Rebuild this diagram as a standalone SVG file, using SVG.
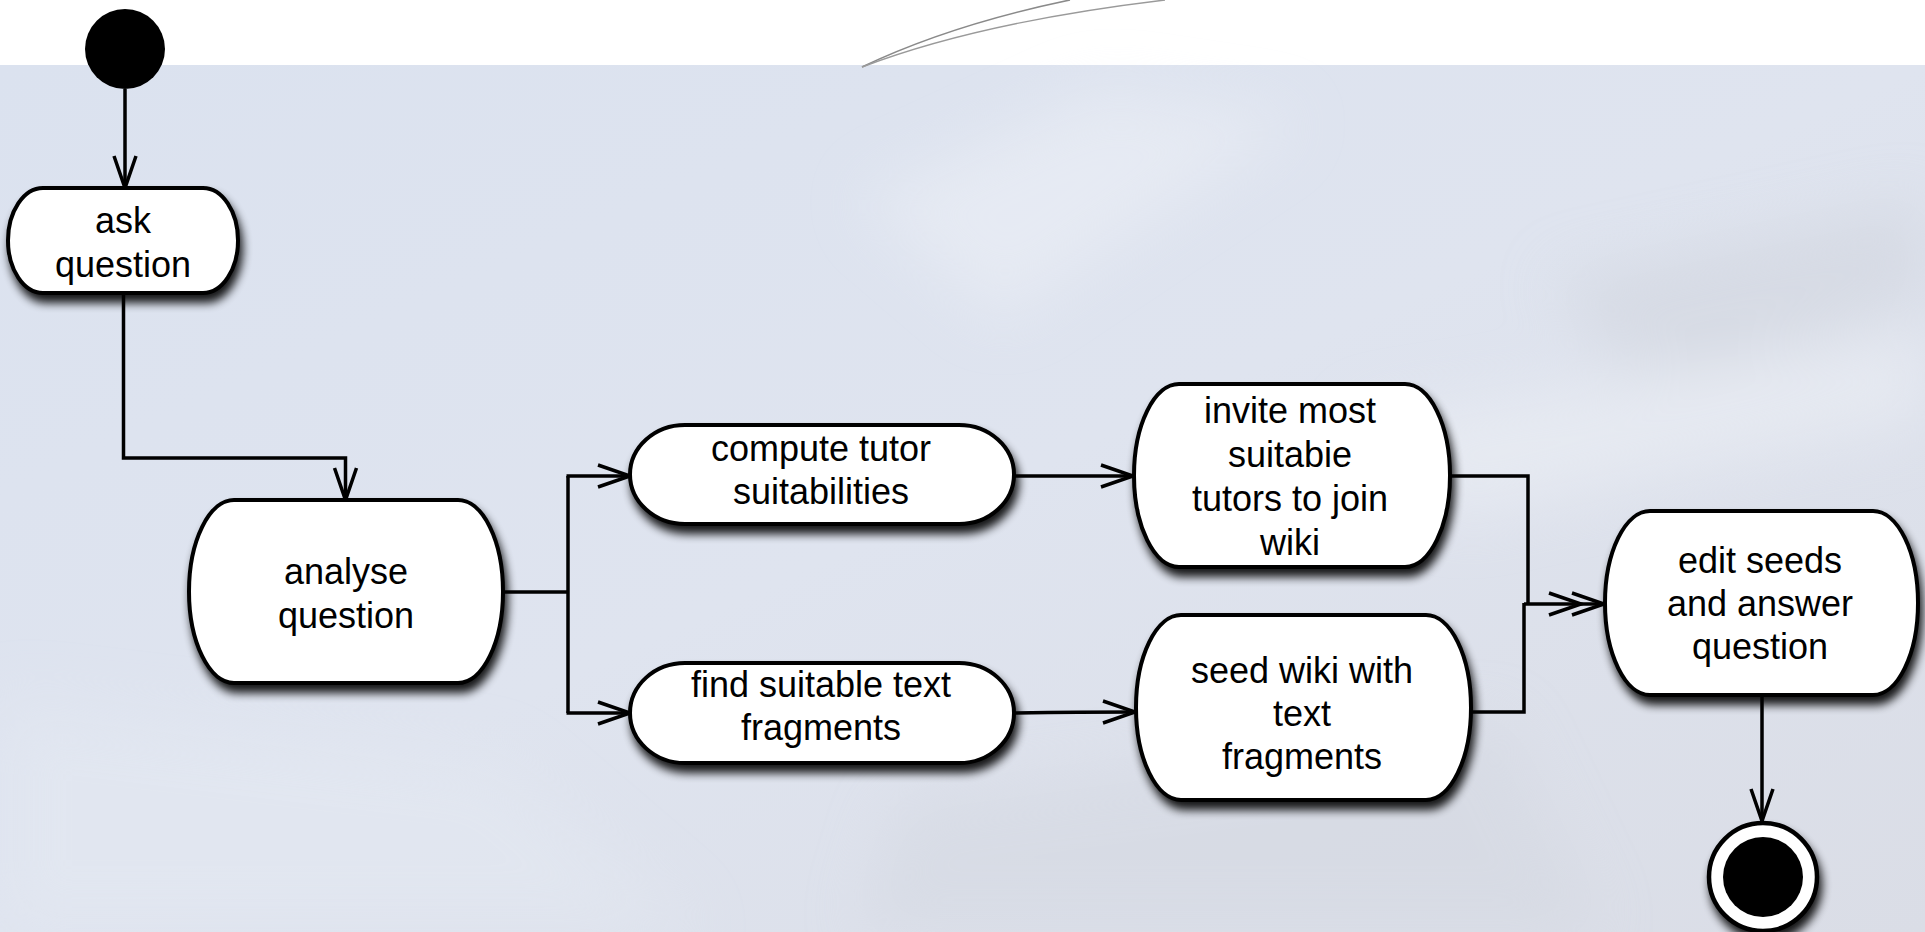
<svg xmlns="http://www.w3.org/2000/svg" width="1925" height="932" viewBox="0 0 1925 932">
<style>
.node{fill:#ffffff;stroke:#000000;stroke-width:4;filter:url(#shadow)}
.lbl{font-family:"Liberation Sans",Arial,Helvetica,sans-serif;font-size:36px;fill:#000000;text-anchor:middle}
.edge{fill:none;stroke:#000000;stroke-width:3.5}
.arr{marker-end:url(#open)}
.arr2{marker-end:url(#open2)}
</style>
<defs>
<filter id="shadow" x="-20%" y="-20%" width="150%" height="160%">
<feGaussianBlur in="SourceAlpha" stdDeviation="5"/>
<feOffset dx="3" dy="8" result="b"/>
<feComponentTransfer><feFuncA type="linear" slope="0.9"/></feComponentTransfer>
<feMerge><feMergeNode/><feMergeNode in="SourceGraphic"/></feMerge>
</filter>
<filter id="soft" x="-50%" y="-50%" width="200%" height="200%"><feGaussianBlur stdDeviation="30"/></filter>
<linearGradient id="bg" x1="0" y1="0" x2="1" y2="1">
<stop offset="0" stop-color="#dbe2ef"/>
<stop offset="0.5" stop-color="#dfe4ef"/>
<stop offset="1" stop-color="#dadde6"/>
</linearGradient>
<marker id="open" markerUnits="userSpaceOnUse" viewBox="-2 -2 38 26" markerWidth="38" markerHeight="26" refX="32" refY="11" orient="auto" overflow="visible">
<path d="M0,0 L32,11 L0,22" fill="none" stroke="#000" stroke-width="3.5"/>
</marker>
<marker id="open2" markerUnits="userSpaceOnUse" viewBox="-26 -2 62 26" markerWidth="62" markerHeight="26" refX="32" refY="11" orient="auto" overflow="visible">
<path d="M0,0 L32,11 L0,22 M-23,0 L9,11 L-23,22" fill="none" stroke="#000" stroke-width="3.5"/>
</marker>
</defs>
<g id="background">
<rect x="0" y="0" width="1925" height="932" fill="#ffffff"/>
<rect x="0" y="65" width="1925" height="867" fill="url(#bg)"/>
<g filter="url(#soft)" opacity="0.5">
<path d="M860,200 L1100,90 L1300,120 L1000,320 Z" fill="#eef1f7"/>
<path d="M1550,280 L1925,200 L1925,300 L1650,400 Z" fill="#cfd3dc"/>
<path d="M1350,420 L1925,330 L1925,420 L1450,520 Z" fill="#eef1f6"/>
<path d="M900,800 L1500,720 L1600,932 L860,932 Z" fill="#d3d7e0"/>
<path d="M0,700 L500,760 L700,932 L0,932 Z" fill="#e4e9f2"/>
</g>
<path d="M862,67 Q950,25 1070,0" fill="none" stroke="#8a8a8a" stroke-width="1.6"/>
<path d="M862,67 Q980,22 1165,0" fill="none" stroke="#9a9a9a" stroke-width="1.4"/>
</g>
<g id="connectors">
<path class="edge arr" d="M125,89 V188"/>
<path class="edge arr" d="M123.5,293 V458 H345.5 V500"/>
<path class="edge" d="M503,592 H568"/>
<path class="edge" d="M568,476 V713"/>
<path class="edge arr" d="M566.5,476 H630"/>
<path class="edge arr" d="M566.5,713 H630"/>
<path class="edge arr" d="M1014,476 H1133"/>
<path class="edge arr" d="M1014,713 Q1080,712 1135,712"/>
<path class="edge" d="M1450,476 H1528 V604"/>
<path class="edge" d="M1471,712 H1524 V603"/>
<path class="edge arr2" d="M1524,604 H1604"/>
<path class="edge arr" d="M1762,695 V821"/>
</g>
<g id="start">
<circle cx="125" cy="49" r="40" fill="#000000"/>
</g>
<g id="ask-question">
<rect class="node" x="8" y="188" width="230" height="105" rx="35" ry="52.5"/>
<text class="lbl" x="123" y="233">ask</text>
<text class="lbl" x="123" y="277">question</text>
</g>
<g id="analyse-question">
<rect class="node" x="189" y="500" width="314" height="183" rx="45" ry="91.5"/>
<text class="lbl" x="346" y="584">analyse</text>
<text class="lbl" x="346" y="628">question</text>
</g>
<g id="compute-tutor">
<rect class="node" x="630" y="425" width="384" height="99" rx="55" ry="49.5"/>
<text class="lbl" x="821" y="461">compute tutor</text>
<text class="lbl" x="821" y="504">suitabilities</text>
</g>
<g id="find-fragments">
<rect class="node" x="630" y="663" width="384" height="100" rx="55" ry="50"/>
<text class="lbl" x="821" y="697">find suitable text</text>
<text class="lbl" x="821" y="740">fragments</text>
</g>
<g id="invite-tutors">
<rect class="node" x="1134" y="384" width="316" height="183" rx="45" ry="91.5"/>
<text class="lbl" x="1290" y="423">invite most</text>
<text class="lbl" x="1290" y="467">suitabie</text>
<text class="lbl" x="1290" y="511">tutors to join</text>
<text class="lbl" x="1290" y="555">wiki</text>
</g>
<g id="seed-wiki">
<rect class="node" x="1136" y="615" width="335" height="185" rx="45" ry="92.5"/>
<text class="lbl" x="1302" y="683">seed wiki with</text>
<text class="lbl" x="1302" y="726">text</text>
<text class="lbl" x="1302" y="769">fragments</text>
</g>
<g id="edit-answer">
<rect class="node" x="1605" y="511" width="313" height="184" rx="45" ry="92"/>
<text class="lbl" x="1760" y="573">edit seeds</text>
<text class="lbl" x="1760" y="616">and answer</text>
<text class="lbl" x="1760" y="659">question</text>
</g>
<g id="end">
<circle cx="1763" cy="877" r="54" fill="#ffffff" stroke="#000000" stroke-width="4.5" filter="url(#shadow)"/>
<circle cx="1763" cy="877" r="40" fill="#000000"/>
</g>
</svg>
